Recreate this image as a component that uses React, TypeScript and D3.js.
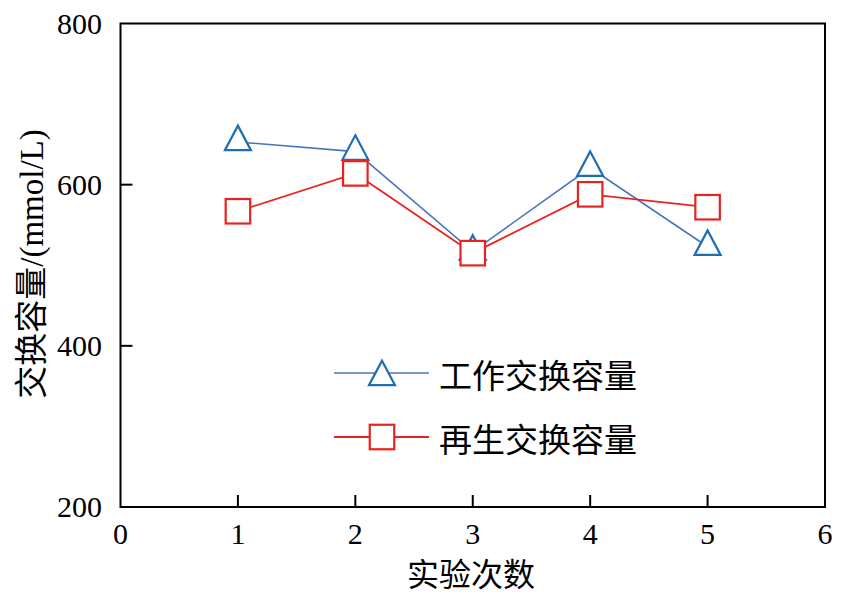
import React, { useEffect, useRef } from 'react';
import * as d3 from 'd3';

// 数据
const runs = [1, 2, 3, 4, 5];
const workCapacity = [653, 641, 517, 621, 523];
const regenCapacity = [567, 614, 515, 588, 572];
const xTicks = [0, 1, 2, 3, 4, 5, 6];
const yTicks = [200, 400, 600, 800];
const seriesNames = ['工作交换容量', '再生交换容量'];

const W = 849;
const H = 599;
const FONT = "'Liberation Serif', 'Times New Roman', 'Noto Sans CJK SC', serif";

const BLUE_LINE = '#4a74bd';
const BLUE_MARK = '#1f6db3';
const RED = '#e8231f';

const App: React.FC = () => {
  const svgRef = useRef<SVGSVGElement>(null);

  useEffect(() => {
    if (!svgRef.current) return;
    const svg = d3.select(svgRef.current);
    svg.selectAll('*').remove();

    const left = 120.5;
    const right = 825;
    const top = 23.5;
    const bottom = 507;

    const x = d3.scaleLinear().domain([0, 6]).range([left, right]);
    const y = d3.scaleLinear().domain([200, 800]).range([bottom, top]);

    // 三角形：重心在数据点
    const triPath = (h: number, w: number, dy: number) =>
      `M0,${-h * 2 / 3 + dy}L${w / 2},${h / 3 + dy}L${-w / 2},${h / 3 + dy}Z`;
    const tri = triPath(24.5, 26, 0);
    const sq = 24.5;

    // 刻度（向内）
    const tickLen = 12;
    const g = svg.append('g');
    xTicks.slice(1, -1).forEach(t => {
      g.append('line')
        .attr('x1', x(t)).attr('x2', x(t))
        .attr('y1', bottom).attr('y2', bottom - tickLen)
        .attr('stroke', '#000').attr('stroke-width', 2);
    });
    yTicks.slice(1, -1).forEach(t => {
      g.append('line')
        .attr('x1', left).attr('x2', left + tickLen)
        .attr('y1', y(t)).attr('y2', y(t))
        .attr('stroke', '#000').attr('stroke-width', 2);
    });

    // 边框
    g.append('rect')
      .attr('x', left).attr('y', top)
      .attr('width', right - left).attr('height', bottom - top)
      .attr('fill', 'none').attr('stroke', '#000').attr('stroke-width', 2);

    // 刻度标签
    xTicks.forEach(t => {
      g.append('text')
        .attr('x', x(t)).attr('y', 544)
        .attr('text-anchor', 'middle')
        .attr('font-family', FONT).attr('font-size', 30)
        .text(t);
    });
    yTicks.forEach(t => {
      g.append('text')
        .attr('x', 102).attr('y', y(t) + 10)
        .attr('text-anchor', 'end')
        .attr('font-family', FONT).attr('font-size', 30)
        .text(t);
    });

    // 轴标题
    g.append('text')
      .attr('x', 471).attr('y', 586)
      .attr('text-anchor', 'middle')
      .attr('font-family', FONT).attr('font-size', 32)
      .text('实验次数');
    g.append('text')
      .attr('transform', 'translate(43, 264) rotate(-90)')
      .attr('text-anchor', 'middle')
      .attr('font-family', FONT).attr('font-size', 33)
      .text('交换容量/(mmol/L)');

    const line = d3.line<number>()
      .x((_, i) => x(runs[i]))
      .y(d => y(d));

    // 工作交换容量
    g.append('path')
      .attr('d', line(workCapacity))
      .attr('fill', 'none').attr('stroke', BLUE_LINE).attr('stroke-width', 1.6);
    g.selectAll('path.tri')
      .data(workCapacity)
      .enter()
      .append('path')
      .attr('class', 'tri')
      .attr('d', tri)
      .attr('transform', (d, i) => `translate(${x(runs[i])}, ${y(d)})`)
      .attr('fill', '#fff').attr('stroke', BLUE_MARK).attr('stroke-width', 2.2);

    // 再生交换容量
    g.append('path')
      .attr('d', line(regenCapacity))
      .attr('fill', 'none').attr('stroke', RED).attr('stroke-width', 1.8);
    g.selectAll('rect.sq')
      .data(regenCapacity)
      .enter()
      .append('rect')
      .attr('class', 'sq')
      .attr('x', (d, i) => x(runs[i]) - sq / 2)
      .attr('y', d => y(d) - sq / 2)
      .attr('width', sq).attr('height', sq)
      .attr('fill', '#fff').attr('stroke', RED).attr('stroke-width', 2.2);

    // 图例
    const legend = g.append('g');
    const ly = [373, 437];
    legend.append('line')
      .attr('x1', 334).attr('x2', 429).attr('y1', ly[0]).attr('y2', ly[0])
      .attr('stroke', BLUE_LINE).attr('stroke-width', 1.6);
    legend.append('path')
      .attr('d', triPath(24.5, 26, 4))
      .attr('transform', `translate(382, ${ly[0]})`)
      .attr('fill', '#fff').attr('stroke', BLUE_MARK).attr('stroke-width', 2.2);
    legend.append('line')
      .attr('x1', 334).attr('x2', 429).attr('y1', ly[1]).attr('y2', ly[1])
      .attr('stroke', RED).attr('stroke-width', 1.8);
    legend.append('rect')
      .attr('x', 382 - sq / 2).attr('y', ly[1] - sq / 2)
      .attr('width', sq).attr('height', sq)
      .attr('fill', '#fff').attr('stroke', RED).attr('stroke-width', 2.2);
    seriesNames.forEach((name, i) => {
      legend.append('text')
        .attr('x', 439).attr('y', ly[i] + 15)
        .attr('font-family', FONT).attr('font-size', 33)
        .text(name);
    });
  }, []);

  return (
    <svg
      ref={svgRef}
      width={W}
      height={H}
      style={{ position: 'absolute', left: 0, top: 0, background: '#fff' }}
    />
  );
};

export default App;
